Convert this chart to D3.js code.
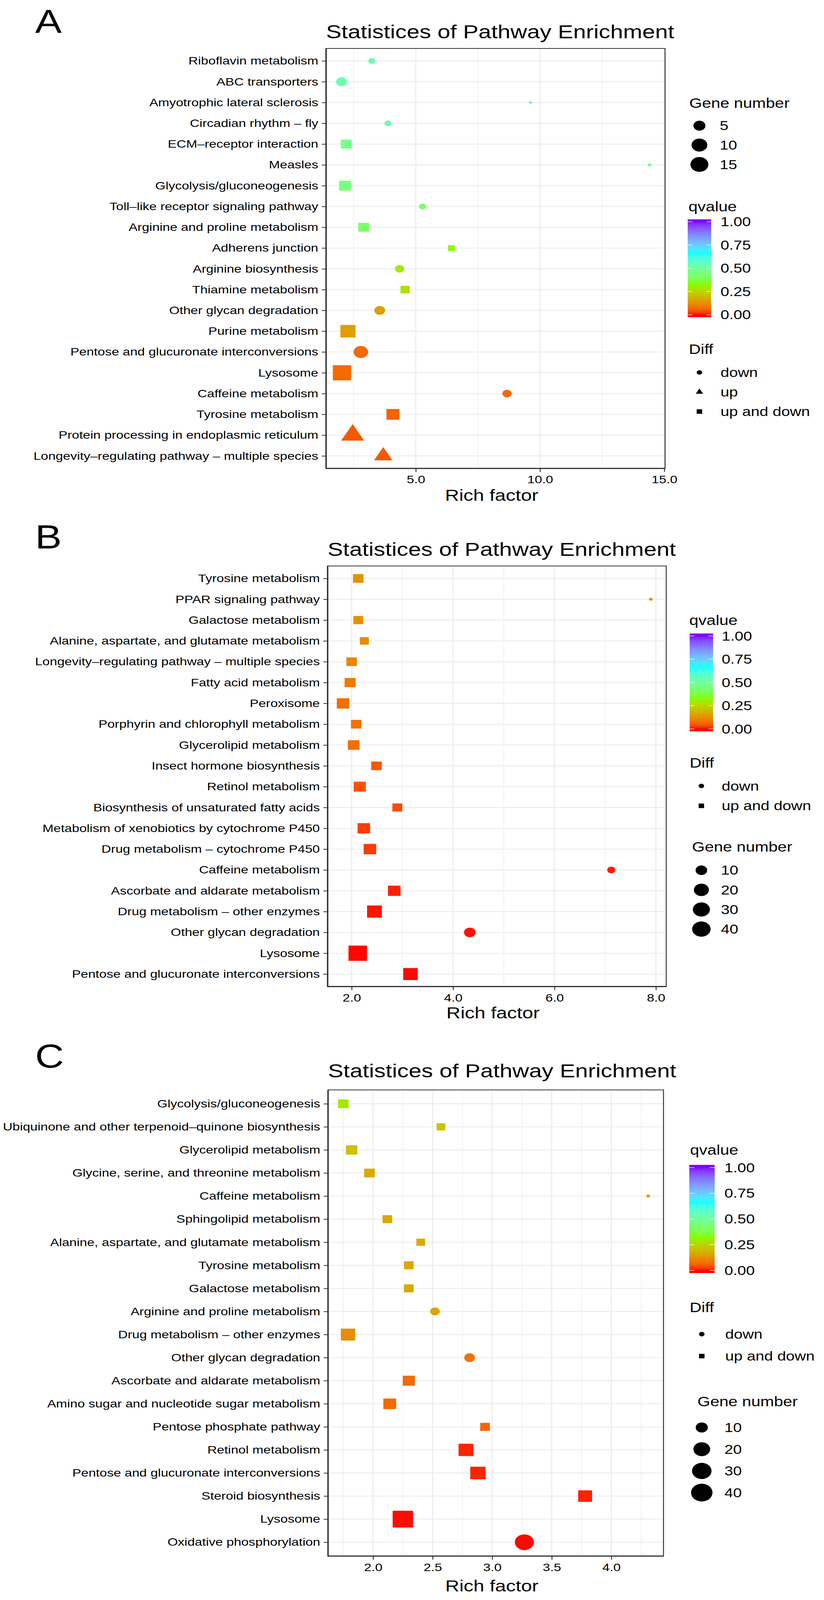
<!DOCTYPE html>
<html>
<head>
<meta charset="utf-8">
<script src="https://cdn.jsdelivr.net/npm/d3@7"></script>
<style>
  html, body { margin: 0; background: #fff; overflow: hidden; }
  svg { display: block; }
  text { font-family: "Liberation Sans", Arial, Helvetica, sans-serif; fill: #000; }
</style>
</head>
<body>
<svg id="fig"></svg>
<script>
// ---- panel A data (top to bottom) ----
var pathwaysA = ["Riboflavin metabolism", "ABC transporters", "Amyotrophic lateral sclerosis",
  "Circadian rhythm \u2013 fly", "ECM\u2013receptor interaction", "Measles", "Glycolysis/gluconeogenesis",
  "Toll\u2013like receptor signaling pathway", "Arginine and proline metabolism", "Adherens junction",
  "Arginine biosynthesis", "Thiamine metabolism", "Other glycan degradation", "Purine metabolism",
  "Pentose and glucuronate interconversions", "Lysosome", "Caffeine metabolism", "Tyrosine metabolism",
  "Protein processing in endoplasmic reticulum", "Longevity\u2013regulating pathway \u2013 multiple species"];
var richA = [3.23, 2.01, 9.62, 3.88, 2.20, 14.41, 2.15, 5.27, 2.90, 6.44,
  4.35, 4.57, 3.55, 2.27, 2.79, 2.03, 8.67, 4.08, 2.46, 3.69];
var qvalueA = [0.53, 0.54, 0.55, 0.52, 0.47, 0.45, 0.45, 0.43, 0.42, 0.32,
  0.29, 0.27, 0.15, 0.15, 0.07, 0.07, 0.07, 0.06, 0.05, 0.05];
var genesA = [2, 4, 1, 2, 4, 1, 5, 2, 4, 2, 3, 3, 4, 9, 8, 16, 3, 6, 13, 7];
var diffA = ["down", "down", "up", "down", "up and down", "up and down", "up and down", "down",
  "up and down", "up and down", "down", "up and down", "down", "up and down", "down",
  "up and down", "down", "up and down", "up", "up"];
var xTicksA = [5, 10, 15];
var sizeBreaksA = [5, 10, 15];

// ---- panel B data ----
var pathwaysB = ["Tyrosine metabolism", "PPAR signaling pathway", "Galactose metabolism",
  "Alanine, aspartate, and glutamate metabolism", "Longevity\u2013regulating pathway \u2013 multiple species",
  "Fatty acid metabolism", "Peroxisome", "Porphyrin and chlorophyll metabolism", "Glycerolipid metabolism",
  "Insect hormone biosynthesis", "Retinol metabolism", "Biosynthesis of unsaturated fatty acids",
  "Metabolism of xenobiotics by cytochrome P450", "Drug metabolism \u2013 cytochrome P450",
  "Caffeine metabolism", "Ascorbate and aldarate metabolism", "Drug metabolism \u2013 other enzymes",
  "Other glycan degradation", "Lysosome", "Pentose and glucuronate interconversions"];
var richB = [2.13, 7.90, 2.13, 2.25, 2.00, 1.97, 1.83, 2.09, 2.04, 2.49,
  2.16, 2.90, 2.24, 2.36, 7.12, 2.84, 2.45, 4.33, 2.12, 3.16];
var qvalueB = [0.125, 0.13, 0.122, 0.12, 0.11, 0.09, 0.078, 0.08, 0.075, 0.05,
  0.042, 0.04, 0.025, 0.022, 0.006, 0.008, 0.004, 0.003, 0.001, 0.001];
var genesB = [8, 2, 7, 6, 8, 9, 12, 8, 10, 8, 11, 7, 12, 12, 5, 12, 19, 10, 40, 18];
var diffB = ["up and down", "down", "up and down", "up and down", "up and down", "up and down",
  "up and down", "up and down", "up and down", "up and down", "up and down", "up and down",
  "up and down", "up and down", "down", "up and down", "up and down", "down", "up and down", "up and down"];
var xTicksB = [2, 4, 6, 8];
var sizeBreaksB = [10, 20, 30, 40];

// ---- panel C data ----
var pathwaysC = ["Glycolysis/gluconeogenesis", "Ubiquinone and other terpenoid\u2013quinone biosynthesis",
  "Glycerolipid metabolism", "Glycine, serine, and threonine metabolism", "Caffeine metabolism",
  "Sphingolipid metabolism", "Alanine, aspartate, and glutamate metabolism", "Tyrosine metabolism",
  "Galactose metabolism", "Arginine and proline metabolism", "Drug metabolism \u2013 other enzymes",
  "Other glycan degradation", "Ascorbate and aldarate metabolism", "Amino sugar and nucleotide sugar metabolism",
  "Pentose phosphate pathway", "Retinol metabolism", "Pentose and glucuronate interconversions",
  "Steroid biosynthesis", "Lysosome", "Oxidative phosphorylation"];
var richC = [1.75, 2.57, 1.82, 1.97, 4.31, 2.12, 2.40, 2.30, 2.30, 2.52,
  1.79, 2.81, 2.30, 2.14, 2.94, 2.78, 2.88, 3.78, 2.25, 3.27];
var qvalueC = [0.29, 0.215, 0.215, 0.17, 0.18, 0.165, 0.165, 0.165, 0.165, 0.16,
  0.12, 0.08, 0.07, 0.07, 0.065, 0.01, 0.01, 0.008, 0.002, 0.001];
var genesC = [8, 6, 9, 8, 3, 7, 6, 7, 7, 7, 14, 8, 10, 11, 7, 15, 16, 13, 34, 28];
var diffC = ["up and down", "up and down", "up and down", "up and down", "down", "up and down",
  "up and down", "up and down", "up and down", "down", "up and down", "down", "up and down",
  "up and down", "up and down", "up and down", "up and down", "up and down", "up and down", "down"];
var xTicksC = [2, 2.5, 3, 3.5, 4];
var sizeBreaksC = [10, 20, 30, 40];

var qPalette = ["#FF0000", "#80FF00", "#00FFFF", "#8000FF"];
var qBreaks = [0, 0.25, 0.5, 0.75, 1];
var diffLevels = ["down", "up", "up and down"];

// the figure is laid out on a 2110 x 4953 sheet and fitted to the visible window
var W = 2110, H = 4953;
var svg = d3.select("#fig")
    .attr("width", window.innerWidth || W)
    .attr("height", Math.min(window.innerHeight || H, H))
    .attr("viewBox", "0 0 " + W + " " + H)
    .attr("preserveAspectRatio", "none");
svg.append("rect").attr("width", W).attr("height", H).attr("fill", "#fff");

var colour = d3.scaleLinear().domain([0, 1 / 3, 2 / 3, 1]).range(qPalette).interpolate(d3.interpolateLab);
var shapeOf = d3.scaleOrdinal().domain(diffLevels).range([d3.symbolCircle, d3.symbolTriangle, d3.symbolSquare]);

function symbolPath(diff, diam) {
    var t = shapeOf(diff);
    // square side equals circle diameter, triangle has the circle's area
    var area = t === d3.symbolSquare ? diam * diam : Math.PI * diam * diam / 4;
    return d3.symbol().type(t).size(area)();
}

function drawPanel(p) {
    var g = svg.append("g");
    var ext = d3.extent(p.rich), pad = (ext[1] - ext[0]) * 0.05;
    var x = d3.scaleLinear().domain([ext[0] - pad, ext[1] + pad]).range([p.left, p.right]);
    var y = d3.scalePoint().domain(p.pathways).range([p.top, p.bottom]).padding(0.6);
    var size = d3.scaleLog().domain(p.sizeFit.domain).range(p.sizeFit.range);

    g.append("text").attr("x", 90).attr("y", p.letterY).attr("font-size", 102).text(p.letter);
    g.append("text").attr("x", p.left).attr("y", p.titleY).attr("font-size", 59)
        .text("Statistices of Pathway Enrichment");

    // grid
    var step = p.xTicks[1] - p.xTicks[0];
    var dom = x.domain();
    var minor = d3.range(p.xTicks[0] - step / 2, p.xTicks[p.xTicks.length - 1] + step, step)
        .filter(function (v) { return v > dom[0] && v < dom[1]; });
    var grid = g.append("g").attr("stroke", "#EBEBEB");
    grid.selectAll("line.mi").data(minor).enter().append("line")
        .attr("x1", x).attr("x2", x).attr("y1", p.top).attr("y2", p.bottom).attr("stroke-width", 1.3);
    grid.selectAll("line.mx").data(p.xTicks).enter().append("line")
        .attr("x1", x).attr("x2", x).attr("y1", p.top).attr("y2", p.bottom).attr("stroke-width", 2.6);
    grid.selectAll("line.my").data(p.pathways).enter().append("line")
        .attr("x1", p.left).attr("x2", p.right).attr("y1", y).attr("y2", y).attr("stroke-width", 2.6);

    // points
    var rows = p.pathways.map(function (name, i) {
        return { name: name, rich: p.rich[i], q: p.qvalue[i], genes: p.genes[i], diff: p.diff[i] };
    });
    g.append("g").selectAll("path").data(rows).enter().append("path")
        .attr("transform", function (d) { return "translate(" + x(d.rich) + "," + y(d.name) + ")"; })
        .attr("d", function (d) { return symbolPath(d.diff, size(d.genes)); })
        .attr("fill", function (d) { return colour(d.q); });

    // border and axis lines
    g.append("rect").attr("x", p.left).attr("y", p.top).attr("width", p.right - p.left)
        .attr("height", p.bottom - p.top).attr("fill", "none").attr("stroke", "#333").attr("stroke-width", 2.4);
    g.append("path").attr("d", "M" + p.left + "," + p.top + "V" + p.bottom + "H" + p.right)
        .attr("fill", "none").attr("stroke", "#222").attr("stroke-width", 3.2);

    var yAxis = g.append("g").attr("transform", "translate(" + p.left + ",0)")
        .call(d3.axisLeft(y).tickSize(11).tickPadding(9));
    var xAxis = g.append("g").attr("transform", "translate(0," + p.bottom + ")")
        .call(d3.axisBottom(x).tickValues(p.xTicks).tickFormat(d3.format(".1f")).tickSize(11).tickPadding(11));
    [yAxis, xAxis].forEach(function (a) {
        a.select(".domain").remove();
        a.selectAll(".tick line").attr("stroke", "#333").attr("stroke-width", 2.4);
        a.selectAll(".tick text").attr("font-size", 34).attr("fill", "#000")
            .style("font-family", "'Liberation Sans', Arial, sans-serif");
    });
    g.append("text").attr("x", (p.left + p.right) / 2 - 10).attr("y", p.xTitleY + 18)
        .attr("text-anchor", "middle").attr("font-size", 50).text("Rich factor");

    p.legends.forEach(function (L) {
        if (L.kind === "color") colourLegend(g, L, p.id);
        else if (L.kind === "shape") shapeLegend(g, L, p.diff);
        else sizeLegend(g, L, p.sizeBreaks, size);
    });
}

function legendTitle(g, L, txt) {
    g.append("text").attr("x", L.titleX).attr("y", L.titleY).attr("dy", "0.35em")
        .attr("font-size", 42).text(txt);
}

function colourLegend(g, L, id) {
    legendTitle(g, L, "qvalue");
    var inset = L.barH / 40;
    var by = d3.scaleLinear().domain([0, 1]).range([L.barTop + L.barH - inset, L.barTop + inset]);
    var grad = svg.append("defs").append("linearGradient").attr("id", "qgrad" + id)
        .attr("gradientUnits", "userSpaceOnUse").attr("x1", 0).attr("x2", 0)
        .attr("y1", by(0)).attr("y2", by(1));
    grad.selectAll("stop").data(d3.range(0, 1.0001, 0.02)).enter().append("stop")
        .attr("offset", function (d) { return d; })
        .attr("stop-color", function (d) { return colour(d); });
    g.append("rect").attr("x", L.barX).attr("y", L.barTop).attr("width", L.barW).attr("height", L.barH)
        .attr("fill", "url(#qgrad" + id + ")");
    var tk = g.append("g").attr("stroke", "#fff").attr("stroke-width", 1.6);
    qBreaks.forEach(function (q) {
        tk.append("line").attr("x1", L.barX).attr("x2", L.barX + L.barW / 5).attr("y1", by(q)).attr("y2", by(q));
        tk.append("line").attr("x1", L.barX + L.barW * 4 / 5).attr("x2", L.barX + L.barW).attr("y1", by(q)).attr("y2", by(q));
    });
    g.selectAll(null).data(qBreaks).enter().append("text")
        .attr("x", L.labelX).attr("y", by).attr("dy", "0.35em").attr("font-size", 40)
        .text(d3.format(".2f"));
}

function shapeLegend(g, L, diffs) {
    legendTitle(g, L, "Diff");
    var levels = diffLevels.filter(function (l) { return diffs.indexOf(l) >= 0; });
    levels.forEach(function (l, i) {
        var cy = L.keyY + i * L.step;
        g.append("path").attr("transform", "translate(" + L.keyX + "," + cy + ")")
            .attr("d", symbolPath(l, 14)).attr("fill", "#000");
        g.append("text").attr("x", L.labelX).attr("y", cy).attr("dy", "0.35em").attr("font-size", 40).text(l);
    });
}

function sizeLegend(g, L, breaks, size) {
    legendTitle(g, L, "Gene number");
    breaks.forEach(function (b, i) {
        var cy = L.keyY + i * L.step;
        g.append("circle").attr("cx", L.keyX).attr("cy", cy).attr("r", size(b) / 2).attr("fill", "#000");
        g.append("text").attr("x", L.labelX).attr("y", cy).attr("dy", "0.35em").attr("font-size", 40).text(b);
    });
}

drawPanel({
    id: "A", letter: "A", letterY: 102, titleY: 118,
    left: 835, right: 1703, top: 150, bottom: 1450, xTitleY: 1532,
    pathways: pathwaysA, rich: richA, qvalue: qvalueA, genes: genesA, diff: diffA,
    xTicks: xTicksA, sizeBreaks: sizeBreaksA,
    sizeFit: { domain: [5, 15], range: [30.7, 46] },
    legends: [
        { kind: "size", titleX: 1765, titleY: 319, keyX: 1791, keyY: 389, step: 60, labelX: 1843 },
        { kind: "color", titleX: 1763, titleY: 640, barX: 1761, barW: 60, barTop: 679, barH: 303, labelX: 1845 },
        { kind: "shape", titleX: 1764, titleY: 1081, keyX: 1791, keyY: 1153, step: 60.5, labelX: 1845 }
    ]
});

drawPanel({
    id: "B", letter: "B", letterY: 1698, titleY: 1721,
    left: 839, right: 1706, top: 1752, bottom: 3054, xTitleY: 3135,
    pathways: pathwaysB, rich: richB, qvalue: qvalueB, genes: genesB, diff: diffB,
    xTicks: xTicksB, sizeBreaks: sizeBreaksB,
    sizeFit: { domain: [10, 40], range: [29.7, 47.3] },
    legends: [
        { kind: "color", titleX: 1765, titleY: 1920, barX: 1766, barW: 60, barTop: 1961, barH: 303, labelX: 1848 },
        { kind: "shape", titleX: 1766, titleY: 2362, keyX: 1796, keyY: 2433, step: 61.5, labelX: 1848 },
        { kind: "size", titleX: 1772, titleY: 2622, keyX: 1796, keyY: 2694, step: 60.7, labelX: 1846 }
    ]
});

drawPanel({
    id: "C", letter: "C", letterY: 3305, titleY: 3335,
    left: 840, right: 1699, top: 3374, bottom: 4817, xTitleY: 4908,
    pathways: pathwaysC, rich: richC, qvalue: qvalueC, genes: genesC, diff: diffC,
    xTicks: xTicksC, sizeBreaks: sizeBreaksC,
    sizeFit: { domain: [10, 40], range: [31, 55] },
    legends: [
        { kind: "color", titleX: 1767, titleY: 3560, barX: 1765, barW: 65, barTop: 3606, barH: 335, labelX: 1855 },
        { kind: "shape", titleX: 1766, titleY: 4047, keyX: 1797, keyY: 4130, step: 68, labelX: 1857 },
        { kind: "size", titleX: 1786, titleY: 4339, keyX: 1797, keyY: 4419, step: 67.2, labelX: 1855 }
    ]
});
</script>
</body>
</html>
